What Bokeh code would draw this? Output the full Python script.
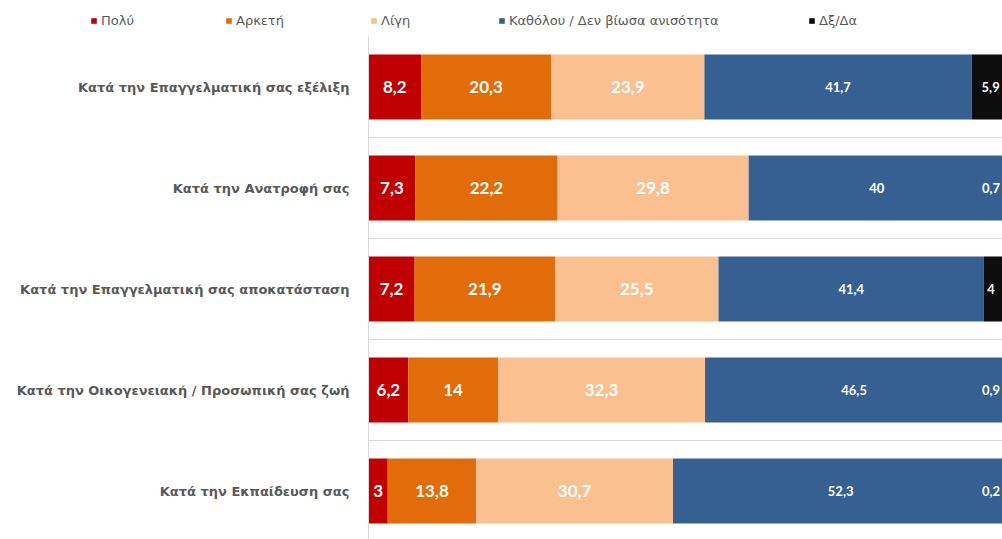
import numpy as np
from bokeh.plotting import figure
from bokeh.models import ColumnDataSource, FixedTicker, Range1d, Legend, LegendItem
from bokeh.core.properties import value
from bokeh.embed import file_html
from bokeh.resources import INLINE

categories = [
    "Κατά την Επαγγελματική σας εξέλιξη",
    "Κατά την Ανατροφή σας",
    "Κατά την Επαγγελματική σας αποκατάσταση",
    "Κατά την Οικογενειακή / Προσωπική σας ζωή",
    "Κατά την Εκπαίδευση σας",
]
series_names = ["Πολύ", "Αρκετή", "Λίγη", "Καθόλου / Δεν βίωσα ανισότητα", "Δξ/Δα"]
polu = [8.2, 7.3, 7.2, 6.2, 3.0]
arketi = [20.3, 22.2, 21.9, 14.0, 13.8]
ligi = [23.9, 29.8, 25.5, 32.3, 30.7]
katholou = [41.7, 40.0, 41.4, 46.5, 52.3]
dxda = [5.9, 0.7, 4.0, 0.9, 0.2]
colors = ["#C00000", "#E36C0A", "#FAC090", "#366092", "#0D0D0D"]
label_sizes = ["17px", "17px", "17px", "13px", "13px"]

series = [polu, arketi, ligi, katholou, dxda]
n = len(categories)
ypos = [n - 1 - i for i in range(n)]
XMAX = 98.9

p = figure(width=1002, height=503, output_backend="svg", toolbar_location=None,
           x_range=Range1d(0, XMAX), y_range=Range1d(-0.48, 4.5),
           min_border_left=368, min_border_right=0, min_border_top=0, min_border_bottom=0)
p.outline_line_color = None

def fmt(v):
    s = "%.1f" % v
    if s.endswith(".0"):
        s = s[:-2]
    return s.replace(".", ",")

left = np.zeros(n)
for name, vals, col, fs in zip(series_names, series, colors, label_sizes):
    vals = np.array(vals)
    right = left + vals
    mid = (left + right) / 2
    # keep labels of the last segments inside the visible area
    mid = np.minimum(mid, XMAX - 1.8)
    src = ColumnDataSource(dict(y=ypos, left=left, right=right,
                                mid=mid, lab=[fmt(v) for v in vals]))
    p.hbar(y="y", left="left", right="right", height=0.645, source=src,
           fill_color=col, line_color=None)
    p.text(x="mid", y="y", text="lab", source=src, text_color="white",
           text_font=value("Lato"), text_font_style="bold", text_font_size=fs,
           text_align="center", text_baseline="middle")
    left = right

p.xaxis.visible = False
p.xgrid.visible = False
p.yaxis.ticker = FixedTicker(ticks=ypos)
p.yaxis.major_label_overrides = {y: c for y, c in zip(ypos, categories)}
p.yaxis.major_tick_line_color = None
p.yaxis.minor_tick_line_color = None
p.yaxis.axis_line_color = "#d9d9d9"
p.yaxis.major_label_text_color = "#595959"
p.yaxis.major_label_text_font = "DejaVu Sans"
p.yaxis.major_label_text_font_style = "bold"
p.yaxis.major_label_text_font_size = "13px"
p.yaxis.major_label_standoff = 13
p.ygrid.ticker = FixedTicker(ticks=[0.5, 1.5, 2.5, 3.5, 4.5])
p.ygrid.grid_line_color = "#d9d9d9"

# legend strip above the chart (separate root, so no frame alignment)
lf = figure(width=1002, height=36, output_backend="svg", toolbar_location=None,
            x_range=Range1d(0, 1), y_range=Range1d(0, 1),
            min_border_left=0, min_border_right=0, min_border_top=0, min_border_bottom=0)
lf.axis.visible = False
lf.grid.visible = False
lf.outline_line_color = None
leg_x = [90, 225, 370, 498, 808]
for name, col, lx in zip(series_names, colors, leg_x):
    # off-range swatch renderer used only for the legend glyph
    dummy = lf.hbar(y=[-5], left=[0], right=[1], height=1, fill_color=col, line_color=None)
    lg = Legend(items=[LegendItem(label=name, renderers=[dummy])], location=(lx, 8),
                orientation="horizontal", padding=0, margin=0, spacing=0,
                glyph_width=7, glyph_height=7, label_standoff=4, label_height=10,
                border_line_color=None, background_fill_alpha=0,
                label_text_font="DejaVu Sans", label_text_font_size="13px",
                label_text_color="#595959")
    lf.add_layout(lg, "center")

open("out.html", "w").write(file_html([lf, p], INLINE))
